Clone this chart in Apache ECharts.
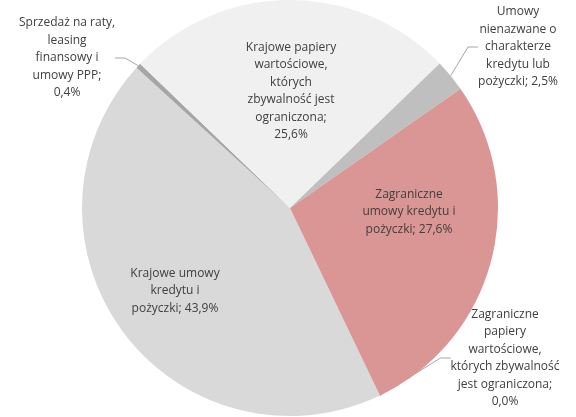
<!DOCTYPE html>
<html>
<head>
<meta charset="utf-8">
<script src="https://cdn.jsdelivr.net/npm/echarts@6/dist/echarts.min.js"></script>
<style>
  html, body { margin: 0; padding: 0; background: #fff; }
  #chart { width: 576px; height: 417px; }
</style>
</head>
<body>
<div id="chart"></div>
<script>
const categories = [
  'Krajowe umowy kredytu i pożyczki',
  'Sprzedaż na raty, leasing finansowy i umowy PPP',
  'Krajowe papiery wartościowe, których zbywalność jest ograniczona',
  'Umowy nienazwane o charakterze kredytu lub pożyczki',
  'Zagraniczne umowy kredytu i pożyczki',
  'Zagraniczne papiery wartościowe, których zbywalność jest ograniczona'
]
const values = [43.9, 0.4, 25.6, 2.5, 27.6, 0.0]
// label text as wrapped in the picture, the value is appended
const labelHeads = [
  'Krajowe umowy\nkredytu i\npożyczki; ',
  'Sprzedaż na raty,\nleasing\nfinansowy i\numowy PPP;\n',
  'Krajowe papiery\nwartościowe,\nktórych\nzbywalność jest\nograniczona;\n',
  'Umowy\nnienazwane o\ncharakterze\nkredytu lub\npożyczki; ',
  'Zagraniczne\numowy kredytu i\npożyczki; ',
  'Zagraniczne\npapiery\nwartościowe,\nktórych zbywalność\njest ograniczona;\n'
]
const colors = ['#D9D9D9', '#A6A6A6', '#F0F0F0', '#BFBFBF', '#DA9694', '#C0504D']
const outside = [false, true, false, true, false, true]

// label centres
const labelPos = [
  [175, 291],
  [67, 58],
  [291, 91],
  [518, 47],
  [409, 212],
  [505, 358]
]

const chart = echarts.init(document.getElementById('chart'))

const option = {
  animation: false,
  series: [{
    type: 'pie',
    center: [290, 208],
    radius: 208,
    startAngle: 295.6,
    clockwise: true,
    avoidLabelOverlap: false,
    itemStyle: { borderWidth: 0 },
    emphasis: { disabled: true },
    label: {
      color: '#404040',
      fontFamily: 'Open Sans',
      fontSize: 12,
      lineHeight: 17.5,
      align: 'center',
      formatter: p => labelHeads[p.dataIndex] + p.value.toFixed(1).replace('.', ',') + '%'
    },
    labelLine: {
      show: true,
      length: 10,
      length2: 10,
      lineStyle: { color: '#A6A6A6', width: 1 }
    },
    labelLayout: p => ({
      x: labelPos[p.dataIndex][0],
      y: labelPos[p.dataIndex][1],
      align: 'center',
      verticalAlign: 'middle'
    }),
    data: categories.map((name, i) => ({
      name,
      value: values[i],
      itemStyle: { color: colors[i] },
      label: { position: outside[i] ? 'outside' : 'inside' },
      labelLine: { show: outside[i] }
    }))
  }]
}

chart.setOption(option)
</script>
</body>
</html>
